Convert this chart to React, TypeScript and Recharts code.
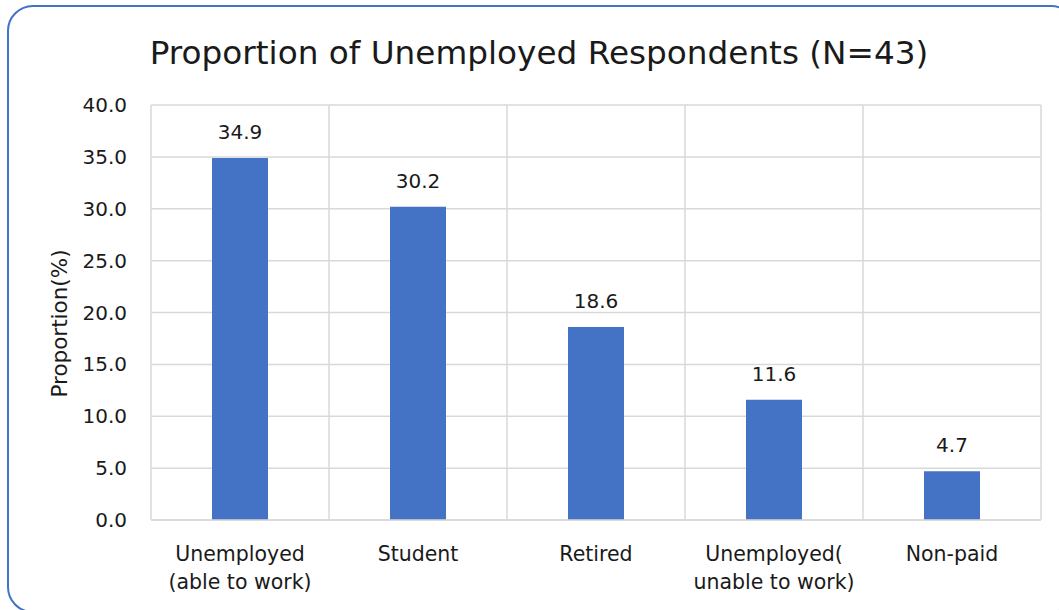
import React from 'react';
import { BarChart, Bar, XAxis, YAxis, CartesianGrid, LabelList, Label } from 'recharts';

const categories = ['Unemployed\n(able to work)', 'Student', 'Retired', 'Unemployed(\nunable to work)', 'Non-paid'];
const proportions = [34.9, 30.2, 18.6, 11.6, 4.7];
const yTicks = [0, 5, 10, 15, 20, 25, 30, 35, 40];

const data = categories.map((c, i) => ({ category: c, value: proportions[i] }));

const FONT = '"DejaVu Sans", Verdana, sans-serif';
const TEXT = '#1a1a1a';
const GRID = '#d9d9d9';

const CategoryTick = (props: any) => {
  const { x, y, payload } = props;
  const lines = String(payload.value).split('\n');
  return (
    <g transform={`translate(${x},${y})`}>
      <text textAnchor="middle" fill={TEXT} fontFamily={FONT} fontSize={20.5}>
        {lines.map((l, i) => (
          <tspan key={i} x={0} y={33 + i * 28}>{l}</tspan>
        ))}
      </text>
    </g>
  );
};

export default function App() {
  return (
    <div style={{ position: 'absolute', left: 0, top: 0, width: 1059, height: 610, overflow: 'hidden', background: '#fff' }}>
      <div style={{ position: 'absolute', left: 7, top: 5, width: 1070, height: 608, border: '2px solid #4472C4', borderRadius: 26, boxSizing: 'border-box' }} />
      <div style={{ position: 'absolute', left: 0, top: 27, width: 1078, textAlign: 'center', fontFamily: FONT, fontSize: 32.7, color: TEXT, lineHeight: '52px' }}>
        Proportion of Unemployed Respondents (N=43)
      </div>
      <div style={{ position: 'absolute', left: 0, top: 0 }}>
        <BarChart width={1059} height={610} data={data} margin={{ top: 105, right: 18, bottom: 30, left: 0 }} barCategoryGap={61}>
          <CartesianGrid
            stroke={GRID}
            strokeWidth={1.5}
            verticalCoordinatesGenerator={({ offset }: any) =>
              [0, 1, 2, 3, 4, 5].map((i) => offset.left + (i * offset.width) / 5)
            }
          />
          <XAxis
            dataKey="category"
            interval={0}
            height={60}
            tickLine={false}
            axisLine={{ stroke: GRID, strokeWidth: 1.5 }}
            tick={<CategoryTick />}
          />
          <YAxis
            width={151}
            domain={[0, 40]}
            ticks={yTicks}
            interval={0}
            tickLine={false}
            axisLine={false}
            tickSize={0}
            tickMargin={24}
            tickFormatter={(v: number) => v.toFixed(1)}
            tick={{ fill: TEXT, fontFamily: FONT, fontSize: 20 }}
          >
            <Label
              content={({ viewBox }: any) => {
                const cy = viewBox.y + viewBox.height / 2 + 11;
                return (
                  <text x={59} y={cy} transform={`rotate(-90, 59, ${cy})`} textAnchor="middle" dominantBaseline="central" fill={TEXT} fontFamily={FONT} fontSize={21.5}>
                    Proportion(%)
                  </text>
                );
              }}
            />
          </YAxis>
          <Bar dataKey="value" fill="#4472C4" isAnimationActive={false}>
            <LabelList dataKey="value" position="top" offset={19} formatter={(v: any) => Number(v).toFixed(1)} fill={TEXT} fontFamily={FONT} fontSize={20} />
          </Bar>
        </BarChart>
      </div>
    </div>
  );
}
